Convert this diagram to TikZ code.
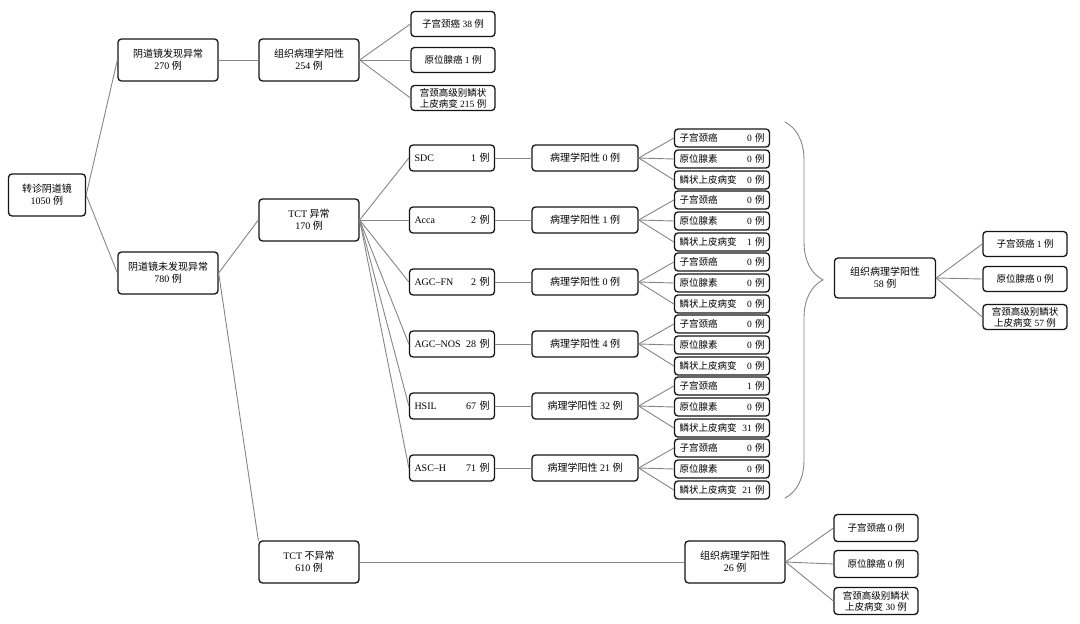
\documentclass[tikz,border=0pt]{standalone}
\usepackage{fontspec}
\setmainfont{Liberation Serif}
\newfontfamily\zhfont{Noto Sans CJK SC}
\usetikzlibrary{decorations.pathreplacing}
\definecolor{lkgray}{HTML}{858585}
\definecolor{bxedge}{HTML}{151515}
\newcommand{\zh}[1]{{\zhfont #1}}

\begin{document}
\begin{tikzpicture}[
  x=1pt, y=-1pt,
  font=\fontsize{10}{12}\selectfont,
  line cap=round,
  box/.style={draw=bxedge, line width=1.3pt, rounded corners=3.5pt, fill=white, align=center, inner sep=1pt},
  bigbox/.style={box, minimum width=100pt, minimum height=42pt},
  leafbox/.style={box, minimum width=84pt, minimum height=25pt, font=\fontsize{9.5}{11}\selectfont},
  typebox/.style={box, text width=75pt, minimum height=26pt, inner xsep=5pt, align=left},
  posbox/.style={box, minimum width=106pt, minimum height=26pt},
  subbox/.style={box, text width=85pt, minimum height=18pt, inner xsep=5pt, align=left, font=\fontsize{9.5}{11}\selectfont},
  link/.style={draw=lkgray, line width=0.9pt},
]
\useasboundingbox (0,0) rectangle (1080,624);

% ---------- left part ----------
\node[bigbox, minimum width=77pt] (root) at (47,195) {\zh{转诊阴道镜}\\1050 \zh{例}};
\node[bigbox] (colpos) at (168,60) {\zh{阴道镜发现异常}\\270 \zh{例}};
\node[bigbox] (colneg) at (168,273) {\zh{阴道镜未发现异常}\\780 \zh{例}};
\node[bigbox] (histA) at (309,60) {\zh{组织病理学阳性}\\254 \zh{例}};
\node[leafbox] (ra1) at (453,24) {\zh{子宫颈癌} 38 \zh{例}};
\node[leafbox] (ra2) at (453,60) {\zh{原位腺癌} 1 \zh{例}};
\node[leafbox] (ra3) at (453,98) {\zh{宫颈高级别鳞状}\\\zh{上皮病变} 215 \zh{例}};
\node[bigbox] (tctpos) at (309,220) {TCT \zh{异常}\\170 \zh{例}};
\node[bigbox] (tctneg) at (309,562) {TCT \zh{不异常}\\610 \zh{例}};

\draw[link] (root.east) -- (colpos.west);
\draw[link] (root.east) -- (colneg.west);
\draw[link] (colpos.east) -- (histA.west);
\foreach \k in {1,2,3} {
  \draw[link] (histA.east) -- (ra\k.west);
}
\draw[link] (colneg.east) -- (tctpos.west);
\draw[link] (colneg.east) -- (tctneg.north west);

% ---------- TCT groups, 62pt apart ----------
\foreach \i/\tname/\tnum/\pnum/\na/\nb/\nc in {0/SDC/1/0/0/0/0, 1/Acca/2/1/0/0/1, 2/AGC--FN/2/0/0/0/0, 3/AGC--NOS/28/4/0/0/0, 4/HSIL/67/32/1/0/31, 5/ASC--H/71/21/0/0/21} {
  \node[typebox] (ty\i) at (452,{158+62*\i}) {\tname\hfill\tnum\ \zh{例}};
  \node[posbox] (pa\i) at (585,{158+62*\i}) {\zh{病理学阳性} \pnum\ \zh{例}};
  \node[subbox] (sa\i) at (722,{138+62*\i}) {\zh{子宫颈癌}\hfill\na\ \zh{例}};
  \node[subbox] (sb\i) at (722,{159+62*\i}) {\zh{原位腺素}\hfill\nb\ \zh{例}};
  \node[subbox] (sc\i) at (722,{180+62*\i}) {\zh{鳞状上皮病变}\hfill\nc\ \zh{例}};
  \draw[link] (tctpos.east) -- (ty\i.west);
  \draw[link] (ty\i.east) -- (pa\i.west);
  \draw[link] (pa\i.east) -- (sa\i.west);
  \draw[link] (pa\i.east) -- (sb\i.west);
  \draw[link] (pa\i.east) -- (sc\i.west);
}

% ---------- brace and summary ----------
\draw[lkgray, line width=0.9pt, decorate, decoration={brace, amplitude=38pt, aspect=0.42}] (785,122) -- (785,498);
\node[bigbox, minimum width=101pt, minimum height=40pt] (histB) at (885,278) {\zh{组织病理学阳性}\\58 \zh{例}};
\node[leafbox] (rb1) at (1025,244) {\zh{子宫颈癌} 1 \zh{例}};
\node[leafbox] (rb2) at (1025,279) {\zh{原位腺癌} 0 \zh{例}};
\node[leafbox] (rb3) at (1025,317) {\zh{宫颈高级别鳞状}\\\zh{上皮病变} 57 \zh{例}};
\foreach \k in {1,2,3} {
  \draw[link] (histB.east) -- (rb\k.west);
}

% ---------- TCT negative branch ----------
\node[bigbox] (histC) at (735,562) {\zh{组织病理学阳性}\\26 \zh{例}};
\node[leafbox, minimum height=27pt] (rc1) at (876,528) {\zh{子宫颈癌} 0 \zh{例}};
\node[leafbox, minimum height=27pt] (rc2) at (876,564) {\zh{原位腺癌} 0 \zh{例}};
\node[leafbox, minimum height=27pt] (rc3) at (876,601) {\zh{宫颈高级别鳞状}\\\zh{上皮病变} 30 \zh{例}};
\draw[link] (tctneg.east) -- (histC.west);
\foreach \k in {1,2,3} {
  \draw[link] (histC.east) -- (rc\k.west);
}
\end{tikzpicture}
\end{document}
